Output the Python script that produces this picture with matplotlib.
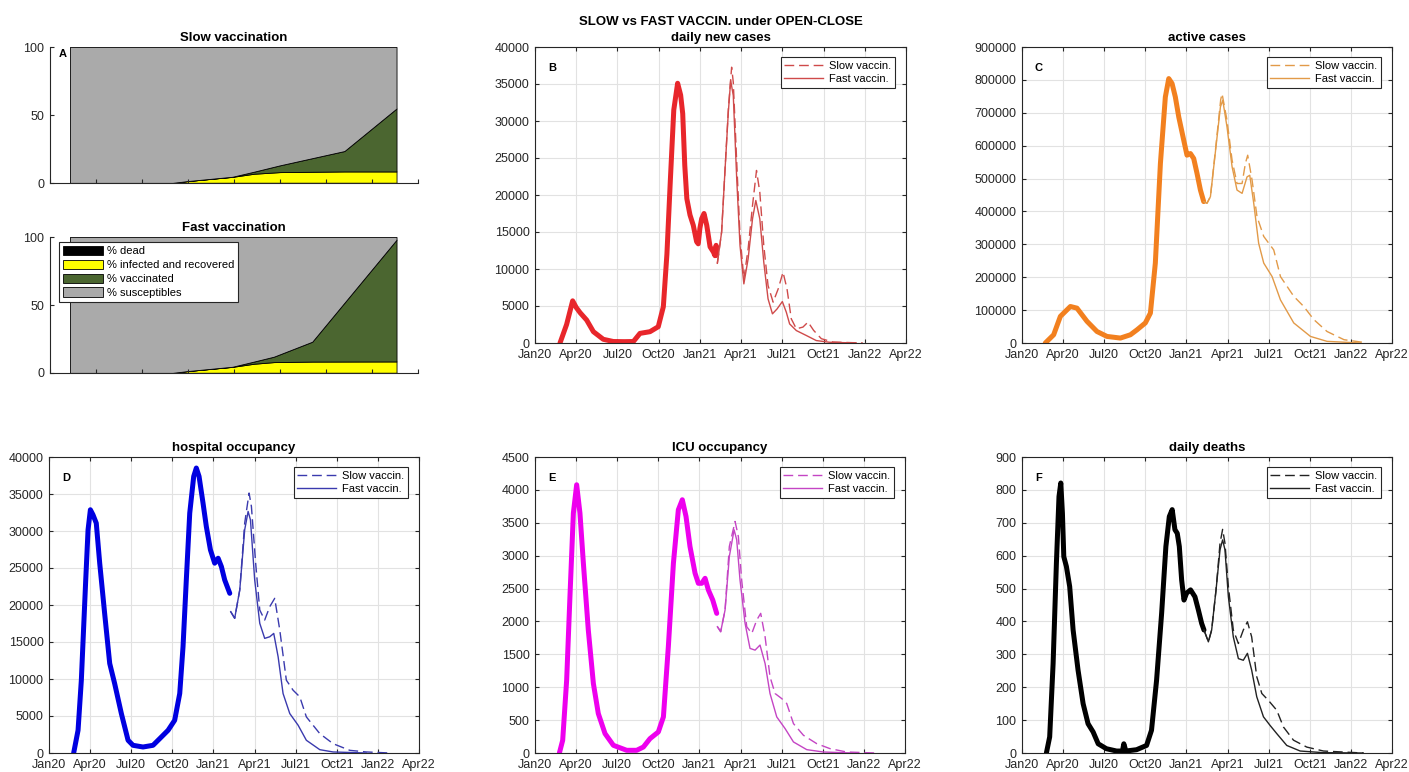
import numpy as np
import matplotlib
matplotlib.use("Agg")
import matplotlib.pyplot as plt

plt.rcParams['font.family'] = ['Liberation Sans', 'DejaVu Sans']

W, H = 1409, 772

# time axis: months since Jan 2020
month_ticks = list(range(0, 28, 3))
month_labels = ["Jan20", "Apr20", "Jul20", "Oct20", "Jan21", "Apr21", "Jul21", "Oct21", "Jan22", "Apr22"]

# population shares (%), slow vaccination scenario
slow_t = [1.3, 8.0, 9.0, 11.9, 13.3, 15.0, 19.2, 22.6]
slow_dead = [0.1, 0.1, 0.15, 0.2, 0.2, 0.2, 0.2, 0.2]
slow_infected = [0.0, 0.0, 1.3, 4.3, 6.6, 7.8, 8.3, 8.3]
slow_vacc = [0.0, 0.0, 0.0, 0.1, 1.5, 5.0, 15.0, 46.3]

# population shares (%), fast vaccination scenario
fast_t = [1.3, 8.0, 9.0, 11.9, 13.3, 14.6, 17.1, 22.6]
fast_dead = [0.1, 0.1, 0.15, 0.2, 0.2, 0.2, 0.2, 0.2]
fast_infected = [0.0, 0.0, 1.3, 4.3, 6.6, 7.8, 8.2, 8.3]
fast_vacc = [0.0, 0.0, 0.0, 0.1, 1.6, 4.0, 14.6, 89.5]

share_labels = ["% dead", "% infected and recovered", "% vaccinated", "% susceptibles"]
share_colors = ["#000000", "#ffff00", "#4b6630", "#aaaaaa"]

# daily new cases
cases_obs_t = [1.82, 2.3, 2.74, 3.0, 3.28, 3.76, 4.25, 4.97, 5.70, 6.5, 7.16, 7.64, 8.37, 8.97, 9.34,
               9.6, 9.85, 10.1, 10.38, 10.6, 10.75, 10.9, 11.05, 11.28, 11.52, 11.76, 11.88, 12.0,
               12.13, 12.3, 12.5, 12.74, 12.98, 13.1, 13.18, 13.22]
cases_obs = [0, 2500, 5700, 4800, 4100, 3100, 1530, 500, 200, 180, 200, 1300, 1530, 2200, 4900,
             12000, 22000, 31500, 35100, 33500, 31000, 24000, 19500, 17300, 15900, 13700, 13400, 15500,
             16800, 17500, 15900, 13000, 12300, 11800, 13200, 11900]
cases_fast_t = [13.27, 13.58, 13.82, 14.07, 14.24, 14.43, 14.68, 14.92, 15.2, 15.51, 15.83, 16.07,
                16.36, 16.65, 16.96, 17.28, 17.62, 18.0, 18.29, 18.53, 19.02, 19.75, 20.47, 21.44, 23.38]
cases_fast = [10770, 14980, 23090, 31200, 35470, 33450, 22190, 13180, 7990, 11370, 16780, 19260,
              16780, 10920, 5970, 3940, 4610, 5600, 4160, 2580, 1680, 1010, 330, 100, 0]
cases_slow_t = [13.27, 13.58, 13.82, 14.07, 14.31, 14.43, 14.68, 14.92, 15.2, 15.51, 15.83, 16.12,
                16.36, 16.65, 16.96, 17.33, 17.7, 18.05, 18.34, 18.65, 19.02, 19.5, 19.87, 20.28,
                20.84, 21.69, 23.86]
cases_slow = [10770, 14980, 23090, 31600, 37270, 35240, 24440, 14530, 8670, 12720, 18580, 23320,
              20390, 13180, 7770, 5520, 7320, 9570, 7320, 3270, 1920, 2150, 2830, 1700,
              580, 130, 0]

# active cases
active_obs_t = [1.70, 2.31, 2.80, 3.53, 4.01, 4.74, 5.47, 6.20, 7.18, 7.91, 8.39, 9.0, 9.37, 9.73,
                10.10, 10.46, 10.71, 10.95, 11.19, 11.44, 11.8, 12.04, 12.29, 12.53, 12.77, 13.02, 13.26]
active_obs = [0, 25000, 81000, 111000, 106000, 66000, 35000, 20000, 15000, 25000, 40000, 61000,
              91000, 243000, 546000, 748000, 804000, 789000, 748000, 687000, 617000, 571000,
              576000, 561000, 516000, 465000, 430000]
active_fast_t = [13.26, 13.5, 13.75, 14.1, 14.48, 14.65, 14.96, 15.33, 15.69, 16.06, 16.42, 16.62,
                 16.91, 17.27, 17.64, 18.25, 18.86, 19.83, 21.05, 22.26, 24.7]
active_fast = [430000, 425000, 445000, 576000, 718000, 738000, 657000, 536000, 465000, 455000,
               505000, 510000, 425000, 303000, 243000, 202000, 131000, 61000, 20000, 5000, 0]
active_slow_t = [13.26, 13.5, 13.75, 14.1, 14.5, 14.6, 14.96, 15.33, 15.69, 16.06, 16.3, 16.47,
                 16.79, 17.15, 17.64, 18.37, 18.86, 19.83, 20.56, 21.3, 22.26, 23.5, 24.9]
active_slow = [430000, 425000, 445000, 580000, 740000, 758000, 677000, 556000, 485000, 485000,
               546000, 571000, 495000, 384000, 324000, 283000, 202000, 142000, 111000, 71000,
               35000, 10000, 2000]

# hospital occupancy
hosp_obs_t = [1.80, 2.12, 2.36, 2.68, 2.85, 3.02, 3.21, 3.45, 3.70, 4.06, 4.43, 4.79, 5.28, 5.77,
              6.13, 6.86, 7.59, 8.08, 8.69, 9.17, 9.54, 9.78, 10.02, 10.27, 10.56, 10.75, 10.95,
              11.24, 11.48, 11.78, 12.09, 12.34, 12.58, 12.82, 13.19]
hosp_obs = [0, 3070, 9840, 23390, 30160, 32870, 32190, 31060, 25650, 18870, 12100, 9390, 5330, 1720,
            1040, 810, 1040, 1940, 3070, 4420, 8040, 14360, 23390, 32420, 37380, 38510, 37380,
            33770, 30610, 27450, 25650, 26320, 25190, 23390, 21580]
hosp_fast_t = [13.26, 13.55, 13.92, 14.28, 14.53, 14.70, 15.01, 15.38, 15.74, 16.11, 16.4, 16.72,
               17.08, 17.57, 18.18, 18.78, 19.76, 20.73, 23.16]
hosp_fast = [19100, 18200, 22030, 30160, 32640, 31510, 23390, 17520, 15490, 15710, 16160, 13000,
             8040, 5330, 3750, 1720, 450, 140, 0]
hosp_slow_t = [13.26, 13.55, 13.92, 14.28, 14.6, 14.77, 15.08, 15.38, 15.74, 16.11, 16.47, 16.84,
               17.32, 17.81, 18.3, 18.78, 19.76, 20.73, 21.95, 23.16, 24.9]
hosp_slow = [19100, 18200, 22030, 31060, 35130, 33320, 25650, 19320, 17970, 19780, 20900, 16620,
             9840, 8490, 7590, 4880, 2620, 1260, 360, 140, 0]

# ICU occupancy
icu_obs_t = [1.78, 2.02, 2.31, 2.55, 2.80, 3.04, 3.28, 3.53, 3.89, 4.26, 4.62, 5.11, 5.72, 6.69,
             7.42, 7.91, 8.39, 9.0, 9.37, 9.73, 10.10, 10.46, 10.75, 11.02, 11.31, 11.68, 11.92,
             12.17, 12.41, 12.65, 12.97, 13.26]
icu_obs = [0, 193, 1107, 2377, 3647, 4078, 3647, 2885, 1869, 1056, 599, 295, 117, 41,
           41, 91, 218, 320, 549, 1615, 2885, 3697, 3850, 3596, 3139, 2733, 2580,
           2580, 2656, 2479, 2326, 2123]
icu_fast_t = [13.31, 13.55, 13.87, 14.18, 14.53, 14.72, 14.96, 15.33, 15.69, 16.06, 16.42, 16.79,
              17.15, 17.64, 18.25, 18.86, 19.83, 21.05, 23.2]
icu_fast = [1920, 1844, 2174, 2987, 3393, 3240, 2631, 1971, 1590, 1564, 1641, 1361,
            904, 549, 371, 168, 51, 15, 0]
icu_slow_t = [13.31, 13.55, 13.87, 14.18, 14.6, 14.84, 15.08, 15.45, 15.82, 16.18, 16.47, 16.79,
              17.15, 17.52, 18.0, 18.37, 18.86, 19.59, 20.56, 21.53, 22.75, 24.9]
icu_slow = [1920, 1844, 2174, 3139, 3520, 3291, 2631, 1920, 1818, 2021, 2123, 1767,
            1158, 904, 828, 752, 447, 269, 142, 66, 15, 0]

# daily deaths
deaths_obs_t = [1.78, 2.02, 2.27, 2.51, 2.70, 2.83, 2.95, 3.05, 3.24, 3.48, 3.73, 4.09, 4.46, 4.82,
                5.19, 5.56, 6.16, 6.9, 7.33, 7.43, 7.58, 8.36, 9.09, 9.45, 9.82, 10.19, 10.5, 10.75,
                10.96, 11.16, 11.33, 11.48, 11.65, 11.82, 12.01, 12.3, 12.62, 12.87, 13.11, 13.28]
deaths_obs = [0, 49, 272, 577, 780, 821, 729, 597, 567, 506, 374, 252, 150, 89,
              64, 28, 13, 6, 6, 28, 6, 10, 23, 69, 221, 425, 628, 719,
              740, 679, 668, 628, 526, 465, 486, 496, 475, 435, 394, 374]
deaths_fast_t = [13.28, 13.6, 13.84, 14.16, 14.45, 14.64, 14.81, 15.06, 15.42, 15.79, 16.15, 16.45,
                 16.76, 17.13, 17.62, 18.1, 18.59, 19.32, 20.3, 22.0, 24.9]
deaths_fast = [374, 338, 374, 496, 618, 648, 618, 475, 353, 287, 282, 303,
               252, 171, 110, 84, 59, 23, 6, 1, 0]
deaths_slow_t = [13.28, 13.6, 13.84, 14.16, 14.45, 14.64, 14.81, 15.06, 15.42, 15.79, 16.15, 16.45,
                 16.76, 17.13, 17.5, 17.98, 18.59, 19.08, 19.81, 20.78, 22.0, 24.9]
deaths_slow = [374, 338, 374, 496, 638, 680, 638, 506, 374, 333, 374, 399,
               353, 232, 181, 160, 130, 79, 39, 18, 6, 0]

AX_COLOR = "#262626"
TICK_SIZE = 9
TITLE_SIZE = 9.5
LEGEND_SIZE = 8

fig = plt.figure(figsize=(W / 100, H / 100), dpi=100)


def px_axes(left, top, right, bottom):
    # axes placed by pixel box (left, top, right, bottom)
    return fig.add_axes([left / W, 1 - bottom / H, (right - left) / W, (bottom - top) / H])


def shares_panel(box, title, t, dead, infected, vacc, letter=None, legend=False):
    ax = px_axes(*box)
    dead = np.array(dead)
    infected = np.array(infected)
    vacc = np.array(vacc)
    susc = 100 - dead - infected - vacc
    polys = ax.stackplot(t, dead, infected, vacc, susc, colors=share_colors,
                         edgecolor="black", linewidth=0.6, labels=share_labels)
    ax.set_xlim(0, 24)
    ax.set_ylim(0, 100)
    ax.set_xticks(range(0, 25, 3))
    ax.set_xticklabels([])
    ax.set_yticks([0, 50, 100])
    for side in ("top", "right"):
        ax.spines[side].set_visible(False)
    for side in ("left", "bottom"):
        ax.spines[side].set_color(AX_COLOR)
        ax.spines[side].set_linewidth(0.8)
    ax.tick_params(direction="in", length=3, labelsize=TICK_SIZE, colors=AX_COLOR, pad=4)
    ax.set_title(title, fontweight="bold", fontsize=TITLE_SIZE, pad=4)
    if letter:
        ax.text(0.025, 0.95, letter, transform=ax.transAxes, fontweight="bold",
                fontsize=8, va="center", ha="left", zorder=5)
    if legend:
        leg = ax.legend(polys, share_labels, loc="upper left", bbox_to_anchor=(0.024, 0.965),
                        borderaxespad=0, fontsize=LEGEND_SIZE, handlelength=3.6, handleheight=0.95,
                        labelspacing=0.3, borderpad=0.35, handletextpad=0.4,
                        fancybox=False, framealpha=1, edgecolor=AX_COLOR)
        leg.get_frame().set_linewidth(0.8)
    return ax


def series_panel(box, letter, title, ymax, ystep, color, thin, obs, fast, slow):
    ax = px_axes(*box)
    ax.plot(obs[0], obs[1], color=color, lw=3.6, solid_capstyle="round", solid_joinstyle="round")
    ax.plot(slow[0], slow[1], color=thin, lw=1.0, dashes=(7, 3.5), label="Slow vaccin.")
    ax.plot(fast[0], fast[1], color=thin, lw=1.0, label="Fast vaccin.")
    ax.set_xlim(0, 27)
    ax.set_ylim(0, ymax)
    ax.set_xticks(month_ticks)
    ax.set_xticklabels(month_labels)
    ax.set_yticks(np.arange(0, ymax + ystep / 2, ystep))
    ax.grid(True, color="#e2e2e2", lw=0.8)
    ax.set_axisbelow(True)
    for sp in ax.spines.values():
        sp.set_color(AX_COLOR)
        sp.set_linewidth(0.8)
    ax.tick_params(direction="in", top=True, right=True, length=3,
                   labelsize=TICK_SIZE, colors=AX_COLOR)
    ax.tick_params(axis="x", pad=4.5)
    ax.tick_params(axis="y", pad=4)
    ax.text(0.035, 0.945, letter, transform=ax.transAxes, fontweight="bold",
            fontsize=8, va="top", ha="left")
    ax.set_title(title, fontweight="bold", fontsize=TITLE_SIZE, pad=4, linespacing=1.45)
    leg = ax.legend(loc="upper right", bbox_to_anchor=(0.97, 0.965), borderaxespad=0,
                    fontsize=LEGEND_SIZE, handlelength=3.5, labelspacing=0.25, borderpad=0.35,
                    handletextpad=0.5, fancybox=False, framealpha=1, edgecolor=AX_COLOR)
    leg.get_frame().set_linewidth(0.8)
    return ax


# stacked population shares
shares_panel((50, 47, 418, 183), "Slow vaccination", slow_t, slow_dead, slow_infected, slow_vacc,
             letter="A")
shares_panel((50, 237, 418, 373), "Fast vaccination", fast_t, fast_dead, fast_infected, fast_vacc,
             legend=True)

# epidemic curves, observed (thick) and projected under both scenarios
series_panel((535, 47, 906, 343), "B", "SLOW vs FAST VACCIN. under OPEN-CLOSE\ndaily new cases",
             40000, 5000, "#e8262b", "#cf4a4a",
             (cases_obs_t, cases_obs), (cases_fast_t, cases_fast), (cases_slow_t, cases_slow))
series_panel((1022, 47, 1392, 343), "C", "active cases", 900000, 100000, "#f2801f", "#e29a48",
             (active_obs_t, active_obs), (active_fast_t, active_fast), (active_slow_t, active_slow))
series_panel((49, 457, 419, 753), "D", "hospital occupancy", 40000, 5000, "#0000e0", "#3a3aae",
             (hosp_obs_t, hosp_obs), (hosp_fast_t, hosp_fast), (hosp_slow_t, hosp_slow))
series_panel((535, 457, 905, 753), "E", "ICU occupancy", 4500, 500, "#ee00ee", "#c445c4",
             (icu_obs_t, icu_obs), (icu_fast_t, icu_fast), (icu_slow_t, icu_slow))
series_panel((1022, 457, 1392, 753), "F", "daily deaths", 900, 100, "#000000", "#222222",
             (deaths_obs_t, deaths_obs), (deaths_fast_t, deaths_fast), (deaths_slow_t, deaths_slow))

fig.savefig("out.png", dpi=100, facecolor="white")
